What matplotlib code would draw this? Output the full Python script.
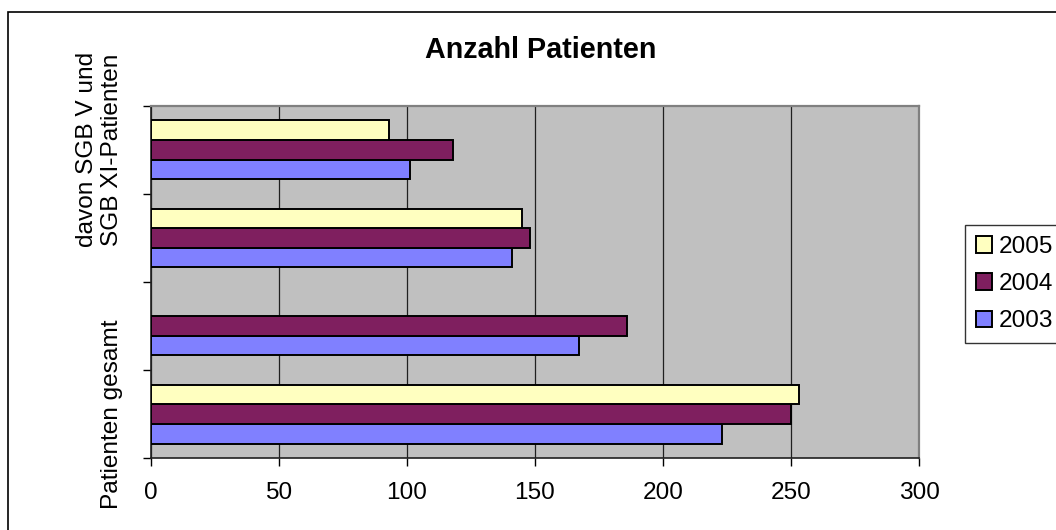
import numpy as np
import matplotlib
matplotlib.use("Agg")
import matplotlib.pyplot as plt
from matplotlib.patches import Rectangle

# ---- data ----
categories = ["Patienten gesamt", "", "", "davon SGB V und\nSGB XI-Patienten"]
years = ["2003", "2004", "2005"]
values_2003 = [223, 167, 141, 101]
values_2004 = [250, 186, 148, 118]
values_2005 = [253, None, 145, 93]
colors = {"2003": "#8080FF", "2004": "#7F1F5F", "2005": "#FFFFC0"}
x_ticks = [0, 50, 100, 150, 200, 250, 300]
title = "Anzahl Patienten"

plt.rcParams["font.family"] = ["Liberation Sans", "DejaVu Sans"]

W, H = 1056, 530
fig = plt.figure(figsize=(W / 100, H / 100), dpi=100)
fig.patch.set_facecolor("white")

# outer chart frame (extends beyond right/bottom edge)
fig.patches.append(Rectangle((8 / W, -0.2), 1.2, 1 - 12 / H + 0.2,
                             transform=fig.transFigure, fill=False,
                             edgecolor="black", linewidth=1.2))

ax = fig.add_axes([151 / W, 1 - 458.3 / H, (919 - 151) / W, (458.3 - 105.7) / H])
ax.set_facecolor("#C0C0C0")

series = [("2003", values_2003), ("2004", values_2004), ("2005", values_2005)]
bar_h = 0.2215
offsets = {"2003": -bar_h, "2004": 0.0, "2005": bar_h}
ypos = np.arange(len(categories))
handles = {}
for name, vals in series:
    ys = [y + offsets[name] for y, v in zip(ypos, vals) if v is not None]
    ws = [v for v in vals if v is not None]
    b = ax.barh(ys, ws, height=bar_h, color=colors[name], edgecolor="black",
                linewidth=1.4, zorder=3, label=name)
    handles[name] = b

ax.set_xlim(0, 300)
ax.set_ylim(-0.5, len(categories) - 0.5)
ax.set_xticks(x_ticks)
ax.set_xticklabels([str(t) for t in x_ticks])
ax.xaxis.grid(True, color="#202020", linewidth=0.9, zorder=1)
ax.set_axisbelow(True)

# category boundaries as major ticks, labels at centers as minor ticks
ax.set_yticks(np.arange(-0.5, len(categories), 1.0))
ax.set_yticklabels([])
ax.set_yticks(ypos, minor=True)
ax.set_yticklabels(categories, minor=True, rotation=90, va="center",
                   multialignment="center", fontsize=17.6)
ax.tick_params(axis="y", which="minor", length=0, pad=20)
ax.tick_params(axis="y", which="major", length=6, width=1.0, direction="out")
ax.tick_params(axis="x", which="major", length=6, width=1.0, direction="out",
               labelsize=17.6, pad=11)

for s in ["left", "bottom"]:
    ax.spines[s].set_color("#202020")
    ax.spines[s].set_linewidth(1.2)
for s in ["top", "right"]:
    ax.spines[s].set_color("#808080")
    ax.spines[s].set_linewidth(1.6)

fig.text(541 / W, 1 - 58.3 / H, title, ha="center", va="baseline",
         fontsize=20.7, fontweight="bold")

leg = fig.legend([handles["2005"], handles["2004"], handles["2003"]],
                 ["2005", "2004", "2003"], loc="upper left",
                 bbox_to_anchor=(965 / W, 1 - 225 / H), fontsize=17.6,
                 frameon=True, fancybox=False, shadow=False,
                 handlelength=0.65, handleheight=0.65, handletextpad=0.3,
                 borderpad=0.45, labelspacing=0.62, borderaxespad=0)
leg.get_frame().set_edgecolor("black")
leg.get_frame().set_linewidth(1.0)
leg.get_frame().set_facecolor("white")

fig.savefig("out.png", dpi=100)
